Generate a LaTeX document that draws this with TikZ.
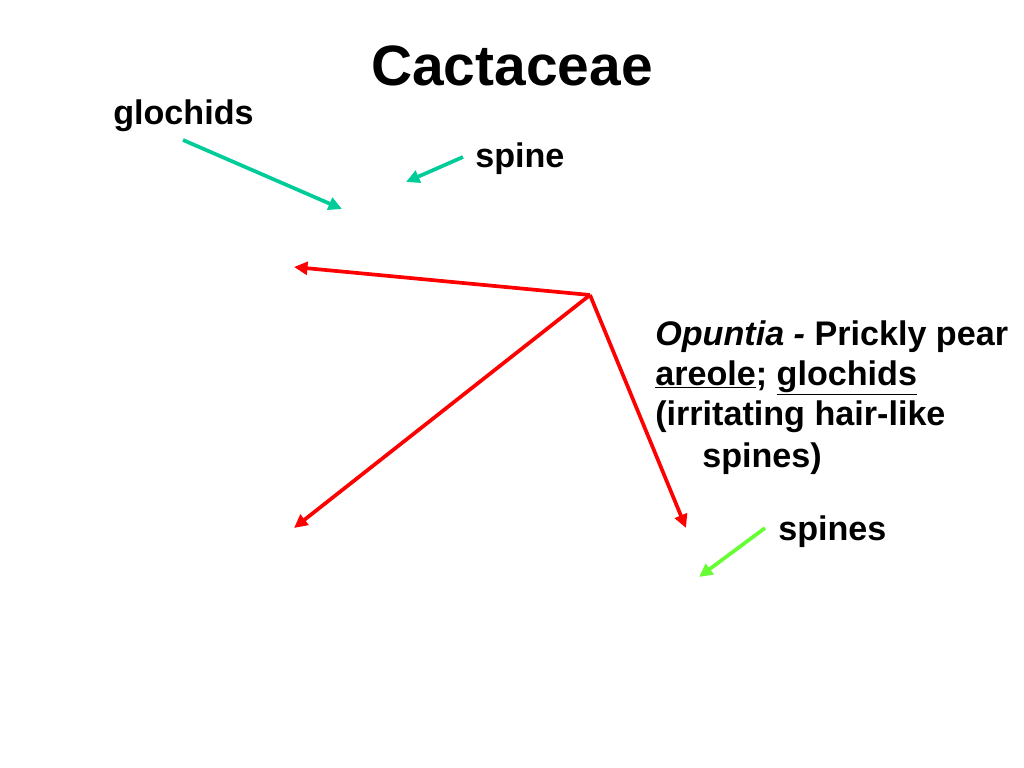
\documentclass[tikz,border=0pt]{standalone}
\usepackage{fontspec}
\setmainfont{Liberation Sans}
\usetikzlibrary{arrows.meta}

\definecolor{tealarrow}{RGB}{0,204,153}
\definecolor{limearrow}{RGB}{102,255,51}

\tikzset{
  lbl/.style={anchor=base west,inner sep=0pt,font=\fontsize{24}{28}\selectfont\bfseries},
  ptr/.style={line width=2.6pt,-{Triangle[length=9.5pt,width=9pt]}},
}

\begin{document}
\begin{tikzpicture}[x=0.703125pt,y=-0.703125pt]
\useasboundingbox (0,0) rectangle (1024,768);

\node[anchor=base,inner sep=0pt,font=\fontsize{40}{44}\selectfont\bfseries] (title) at (512,86) {Cactaceae};

\node[lbl] (glochids) at (113,125) {glochids};
\node[lbl] (spine) at (475,168) {spine};
\node[lbl] (opuntia) at (655,345) {\textit{Opuntia -} Prickly pear};
\node[lbl] (areole) at (655,385) {\underline{areole}; \underline{glochids}};
\node[lbl] (irrit) at (655,425) {(irritating hair-like};
\node[lbl] (hair) at (702,467) {spines)};
\node[lbl] (spines) at (778,540) {spines};

\coordinate (glochidsfrom) at (183,140);
\coordinate (glochidsto) at (342,209);
\coordinate (spinefrom) at (463,157);
\coordinate (spineto) at (406,182);
\coordinate (spinesfrom) at (765,528);
\coordinate (spinesto) at (699,577);

\coordinate (hub) at (590,295);
\coordinate (tipleft) at (294,267);
\coordinate (tipdown) at (294,528);
\coordinate (tipright) at (686,528);

\draw[ptr,tealarrow] (glochidsfrom) -- (glochidsto);
\draw[ptr,tealarrow] (spinefrom) -- (spineto);
\draw[ptr,limearrow] (spinesfrom) -- (spinesto);

\draw[ptr,red] (hub) -- (tipleft);
\draw[ptr,red] (hub) -- (tipdown);
\draw[ptr,red] (hub) -- (tipright);
\end{tikzpicture}
\end{document}
